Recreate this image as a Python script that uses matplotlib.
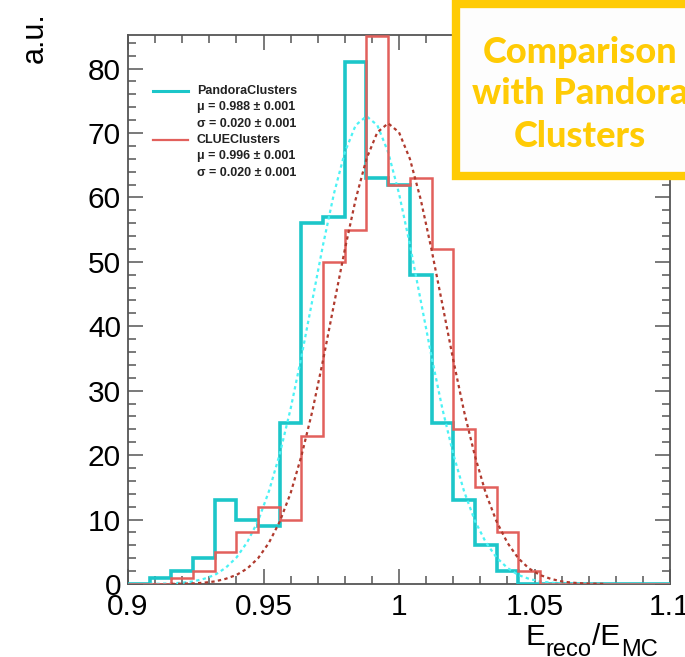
import numpy as np
import matplotlib
matplotlib.use('Agg')
import matplotlib.pyplot as plt
from matplotlib.patches import Rectangle

plt.rcParams['font.family'] = ['Liberation Sans', 'DejaVu Sans']

# histogram binning: 25 bins between 0.9 and 1.1
bin_lo, bin_hi, n_bins = 0.9, 1.1, 25
pandora_counts = [0, 1, 2, 4, 13, 10, 9, 25, 56, 57, 81, 63, 62, 48, 25,
                  13, 6, 2, 0, 0, 0, 0, 0, 0, 0]
clue_counts = [0, 0, 1, 2, 5, 8, 12, 10, 23, 50, 55, 85, 62, 63, 52,
               24, 15, 8, 2, 0, 0, 0, 0, 0, 0]

# gaussian fits
pandora_fit_x = [0.908, 0.912, 0.916, 0.920, 0.924, 0.928, 0.932, 0.936, 0.940, 0.944,
                 0.948, 0.952, 0.956, 0.960, 0.964, 0.968, 0.972, 0.976, 0.980, 0.984,
                 0.988, 0.992, 0.996, 1.000, 1.004, 1.008, 1.012, 1.016, 1.020, 1.024,
                 1.028, 1.032, 1.036, 1.040, 1.044, 1.048, 1.052, 1.056, 1.060, 1.064,
                 1.068]
pandora_fit_y = [0.02, 0.05, 0.1, 0.2, 0.4, 0.8, 1.4, 2.5, 4.1, 6.5,
                 9.8, 14.4, 20.2, 27.2, 35.3, 44.0, 52.7, 60.6, 67.0, 71.2,
                 72.6, 71.2, 67.0, 60.6, 52.7, 44.0, 35.3, 27.2, 20.2, 14.4,
                 9.8, 6.5, 4.1, 2.5, 1.4, 0.8, 0.4, 0.2, 0.1, 0.05,
                 0.02]
clue_fit_x = [0.916, 0.920, 0.924, 0.928, 0.932, 0.936, 0.940, 0.944, 0.948, 0.952,
              0.956, 0.960, 0.964, 0.968, 0.972, 0.976, 0.980, 0.984, 0.988, 0.992,
              0.996, 1.000, 1.004, 1.008, 1.012, 1.016, 1.020, 1.024, 1.028, 1.032,
              1.036, 1.040, 1.044, 1.048, 1.052, 1.056, 1.060, 1.064, 1.068, 1.072,
              1.076]
clue_fit_y = [0.02, 0.05, 0.1, 0.2, 0.4, 0.8, 1.4, 2.4, 4.0, 6.4,
              9.7, 14.1, 19.9, 26.8, 34.8, 43.4, 51.9, 59.7, 66.0, 70.1,
              71.5, 70.1, 66.0, 59.7, 51.9, 43.4, 34.8, 26.8, 19.9, 14.1,
              9.7, 6.4, 4.0, 2.4, 1.4, 0.8, 0.4, 0.2, 0.1, 0.05,
              0.02]

legend_rows = ['PandoraClusters', 'μ = 0.988 ± 0.001', 'σ = 0.020 ± 0.001',
               'CLUEClusters', 'μ = 0.996 ± 0.001', 'σ = 0.020 ± 0.001']
box_lines = ['Comparison', 'with Pandora', 'Clusters']
# x title pieces: (text, is_subscript)
xtitle = [('E', False), ('reco', True), ('/E', False), ('MC', True)]

cyan = '#1cc6c9'
red = '#e2605c'
cyan_fit = '#4cf2f5'
red_fit = '#b03a2e'
yellow = '#ffcb05'
spine_col = '#555555'

W, H = 685, 657
fig = plt.figure(figsize=(W / 100, H / 100), dpi=100)
ax = fig.add_axes([0.1869, 0.1111, 0.7912, 0.8356])

edges = np.linspace(bin_lo, bin_hi, n_bins + 1)
ax.stairs(pandora_counts, edges, color=cyan, lw=2.6, zorder=3)
ax.plot(pandora_fit_x, pandora_fit_y, color=cyan_fit, lw=1.6,
        ls=(0, (1.5, 1.5)), zorder=4)
ax.stairs(clue_counts, edges, color=red, lw=1.8, zorder=5)
ax.plot(clue_fit_x, clue_fit_y, color=red_fit, lw=1.6,
        ls=(0, (1.5, 1.5)), zorder=6)

ax.set_xlim(bin_lo, bin_hi)
ax.set_ylim(0, 85.2)
ax.set_xticks([0.9, 0.95, 1.0, 1.05, 1.1])
ax.set_xticklabels(['0.9', '0.95', '1', '1.05', '1.1'])
ax.set_xticks(np.arange(0.9, 1.1001, 0.01), minor=True)
ax.set_yticks(range(0, 81, 10))
ax.set_yticks(range(0, 85, 2), minor=True)
ax.tick_params(which='both', direction='in', top=True, right=True,
               color=spine_col, width=1.1, labelsize=21.5)
ax.tick_params(which='major', length=11)
ax.tick_params(which='minor', length=5.5)
ax.tick_params(axis='x', pad=6.5)
ax.tick_params(axis='y', pad=5)
for s in ax.spines.values():
    s.set_color(spine_col)
    s.set_linewidth(1.3)

# legend drawn by hand, ROOT style
row_y = [0.898, 0.868, 0.838, 0.809, 0.779, 0.749]
for txt, yy in zip(legend_rows, row_y):
    ax.text(0.127, yy, txt, transform=ax.transAxes, fontsize=9,
            fontweight='bold', color='#222222', va='center', ha='left')
ax.plot([0.046, 0.111], [row_y[0], row_y[0]], transform=ax.transAxes,
        color=cyan, lw=2.2)
ax.plot([0.046, 0.111], [row_y[3], row_y[3]], transform=ax.transAxes,
        color=red, lw=1.6)

# x title with ROOT-like low subscripts, chained piece by piece
renderer = fig.canvas.get_renderer()
xpos = 525
for txt, sub in xtitle:
    base = 656 if sub else 645
    t = fig.text(xpos / W, (H - base) / H, txt, fontsize=17 if sub else 21.5,
                 ha='left', va='baseline')
    xpos = t.get_window_extent(renderer).x1 + 0.5

fig.text(0.051, 0.904, 'a.u.', fontsize=22, rotation=90,
         ha='center', va='bottom')

# yellow annotation box in the corner
box = Rectangle((0.666, 0.7317), 0.4, 0.262, transform=fig.transFigure,
                facecolor='#fdfdfd', edgecolor=yellow, lw=6, zorder=10,
                clip_on=False)
fig.patches.append(box)
for txt, yy in zip(box_lines, [0.9036, 0.8417, 0.7767]):
    fig.text(0.8467, yy, txt, fontsize=26, fontweight='black',
             family='Lato', color=yellow, ha='center', va='baseline',
             zorder=11)

plt.savefig('out.png', dpi=100)
